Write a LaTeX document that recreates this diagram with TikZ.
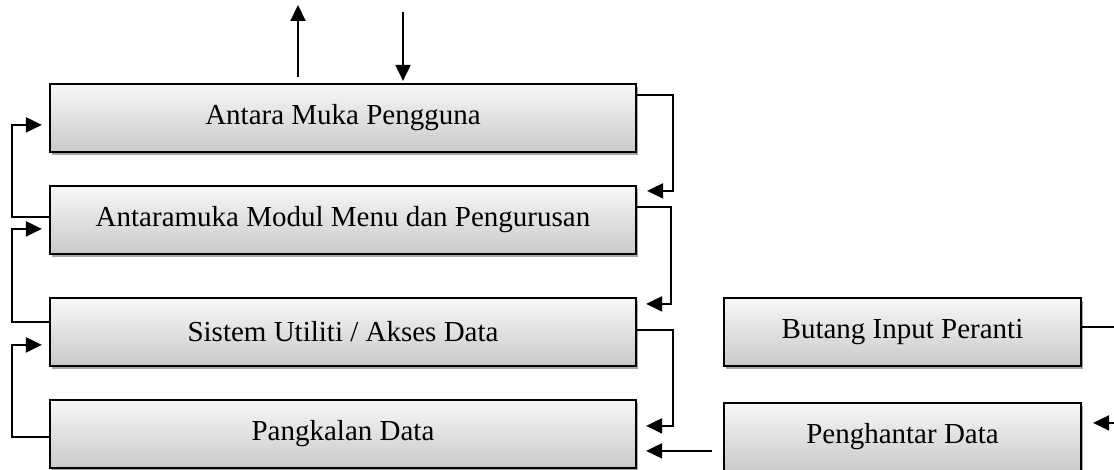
\documentclass[tikz,border=0pt]{standalone}
\usepackage{fontspec}
\setmainfont{Liberation Serif}
\usetikzlibrary{arrows.meta,calc,shadows}
\begin{document}
\begin{tikzpicture}[x=1pt,y=-1pt,
  box/.style={draw=black, line width=2.2pt, top color=gray!6, bottom color=gray!42,
    drop shadow={shadow xshift=2pt,shadow yshift=-3pt,opacity=0.35,fill=black},
    minimum height=68pt, inner sep=0pt, font=\fontsize{29}{34}\selectfont},
  wide/.style={box, minimum width=586pt},
  narrow/.style={box, minimum width=357pt},
  conn/.style={line width=2pt, -{Triangle[length=16pt,width=15pt]}}]
\useasboundingbox (0,0) rectangle (1114,470);
\node[wide] (A) at (343,118) {Antara Muka Pengguna};
\node[wide] (B) at (343,220) {Antaramuka Modul Menu dan Pengurusan};
\node[wide] (C) at (343,332) {Sistem Utiliti / Akses Data};
\node[wide] (D) at (343,434) {Pangkalan Data};
\node[narrow] (E) at (902.5,332) {Butang Input Peranti};
\node[narrow] (F) at (902.5,437) {Penghantar Data};
\coordinate (topout) at (298,5);
\coordinate (topin) at (403,12);
\coordinate (offright) at (1135,0);
% top arrows
\draw[conn] (A.north -| topout) ++(0,-6) -- (topout);
\draw[conn] (topin) -- ($(A.north -| topin)+(0,-2)$);
% right side connectors
\draw[conn] ($(A.north east)+(0,12)$) -| ($(B.north east)+(36,6)$) -- ($(B.north east)+(10,6)$);
\draw[conn] ($(B.north east)+(0,22)$) -| ($(C.north east)+(34,7)$) -- ($(C.north east)+(9,7)$);
\draw[conn] ($(C.north east)+(0,33)$) -| ($(D.north east)+(36,27)$) -- ($(D.north east)+(9,27)$);
\draw[conn] ($(F.north west)+(-11,49)$) -- ($(D.north east)+(9,52)$);
\draw[conn] ($(E.north east)+(0,30)$) -| ($(F.north east -| offright)+(0,21)$) -- ($(F.north east)+(11,21)$);
% left side connectors
\draw[conn] ($(B.north west)+(0,32)$) -| ($(A.north west)+(-37,42)$) -- ($(A.north west)+(-7,42)$);
\draw[conn] ($(C.north west)+(0,25)$) -| ($(B.north west)+(-37,44)$) -- ($(B.north west)+(-7,44)$);
\draw[conn] ($(D.north west)+(0,38)$) -| ($(C.north west)+(-37,48)$) -- ($(C.north west)+(-7,48)$);
\end{tikzpicture}
\end{document}
